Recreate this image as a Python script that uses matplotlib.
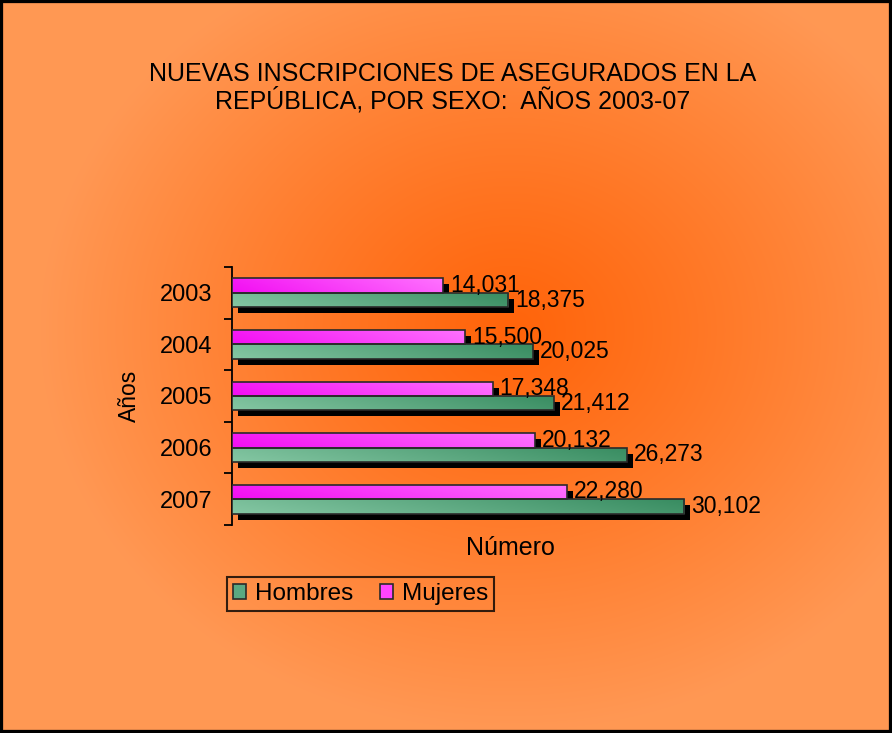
"""Nuevas inscripciones de asegurados por sexo, 2003-07."""

import numpy as np
import matplotlib

matplotlib.use("Agg")
import matplotlib.pyplot as plt
from matplotlib.patches import Patch, Rectangle
from matplotlib.transforms import ScaledTranslation

years = ["2003", "2004", "2005", "2006", "2007"]
hombres = [18375, 20025, 21412, 26273, 30102]
mujeres = [14031, 15500, 17348, 20132, 22280]

title = "NUEVAS INSCRIPCIONES DE ASEGURADOS EN LA\nREPÚBLICA, POR SEXO:  AÑOS 2003-07"

plt.rcParams["font.family"] = ["Liberation Sans", "DejaVu Sans"]

W, H, DPI = 892, 733, 100
fig = plt.figure(figsize=(W / DPI, H / DPI), dpi=DPI)


def radial_background(fig):
    bg = fig.add_axes([0, 0, 1, 1], zorder=-10)
    yy, xx = np.mgrid[0:H, 0:W]
    r = np.sqrt(((xx - 510) / 470.0) ** 2 + ((yy - 330) / 400.0) ** 2)
    t = np.clip(r, 0, 1) ** 1.1
    inner = np.array([255, 100, 10]) / 255
    outer = np.array([255, 152, 84]) / 255
    img = inner + (outer - inner) * t[..., None]
    bg.imshow(img, aspect="auto", extent=[0, 1, 0, 1], origin="upper")
    bg.set_axis_off()


def gradient_fill(ax, patch, c_start, c_end):
    x, y = patch.get_x(), patch.get_y()
    w, h = patch.get_width(), patch.get_height()
    cols = np.linspace(0, 1, 200)[None, :]
    rows = np.linspace(0, 1, 20)[:, None]
    t = np.clip(0.85 * cols + 0.15 * (1 - rows), 0, 1)
    c0, c1 = np.array(c_start), np.array(c_end)
    img = c0 + (c1 - c0) * t[..., None]
    im = ax.imshow(img, extent=[x, x + w, y + h, y], aspect="auto",
                   origin="upper", zorder=patch.get_zorder() - 0.01)
    im.set_clip_path(patch)
    patch.set_facecolor("none")


radial_background(fig)

ax = fig.add_axes([232 / W, 1 - 525 / H, 556 / W, 258 / H])
ax.set_facecolor("none")

pos = np.arange(len(years))
h = 0.28
shadow = ax.transData + ScaledTranslation(0.06, -0.06, fig.dpi_scale_trans)

ax.barh(pos - h / 2, mujeres, height=h, color="black", transform=shadow, zorder=2)
ax.barh(pos + h / 2, hombres, height=h, color="black", transform=shadow, zorder=2)
bars_m = ax.barh(pos - h / 2, mujeres, height=h, edgecolor="#2a2a2a",
                 linewidth=1.2, zorder=3)
bars_h = ax.barh(pos + h / 2, hombres, height=h, edgecolor="#2a2a2a",
                 linewidth=1.2, zorder=3)

for p in bars_m:
    gradient_fill(ax, p, (0.95, 0.05, 0.95), (1.0, 0.45, 1.0))
for p in bars_h:
    gradient_fill(ax, p, (0.52, 0.78, 0.64), (0.22, 0.55, 0.38))

for cont in (bars_m, bars_h):
    ax.bar_label(cont, labels=[f"{v:,}" for v in cont.datavalues],
                 padding=5, fontsize=16.5, color="black", zorder=5)

ax.set_xlim(0, 37000)
ax.set_ylim(len(years) - 0.5, -0.5)

ax.set_yticks(np.arange(len(years) + 1) - 0.5)
ax.set_yticklabels([])
ax.set_yticks(pos, minor=True)
ax.set_yticklabels(years, minor=True, fontsize=17)
ax.tick_params(axis="y", which="major", length=6, width=1.3, direction="out")
ax.tick_params(axis="y", which="minor", length=0, pad=14)
ax.set_xticks([])
for side in ("top", "right", "bottom"):
    ax.spines[side].set_visible(False)
ax.spines["left"].set_linewidth(1.3)

fig.text(453 / W, 1 - 88 / H, title, ha="center", va="center",
         fontsize=18, linespacing=1.05)
fig.text(129 / W, 1 - 396 / H, "Años", rotation=90, ha="center",
         va="center", fontsize=16.5)
fig.text(510 / W, 1 - 548 / H, "Número", ha="center", va="center", fontsize=18)

handles = [
    Patch(facecolor="#5aa882", edgecolor="#2a2a2a", linewidth=1.2, label="Hombres"),
    Patch(facecolor="#ff44ff", edgecolor="#2a2a2a", linewidth=1.2, label="Mujeres"),
]
leg = fig.legend(handles=handles, loc="upper left",
                 bbox_to_anchor=(227 / W, 1 - 577 / H), ncol=2, fontsize=17.5,
                 frameon=True, fancybox=False, handlelength=0.55,
                 handleheight=0.55, handletextpad=0.35, columnspacing=1.1,
                 borderpad=0.25, borderaxespad=0)
leg.get_frame().set_edgecolor("black")
leg.get_frame().set_linewidth(1.5)
leg.get_frame().set_facecolor("none")

fig.patches.append(Rectangle((0, 0), 1, 1, transform=fig.transFigure,
                             fill=False, edgecolor="black", linewidth=4.5,
                             zorder=20))

fig.savefig("out.png", dpi=DPI)
